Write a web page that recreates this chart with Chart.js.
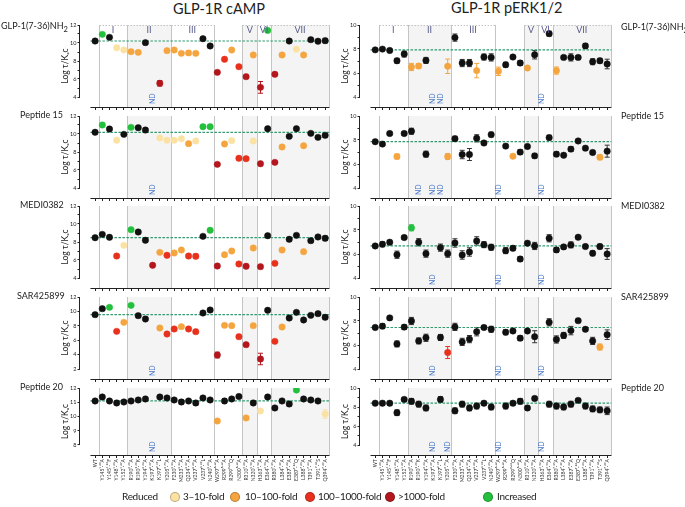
<!DOCTYPE html>
<html>
<head>
<meta charset="utf-8">
<script src="https://cdn.jsdelivr.net/npm/chart.js@4.4.1/dist/chart.umd.min.js"></script>
<style>
  body { margin: 0; background: #fff; }
  #fig { position: relative; width: 685px; height: 507px; overflow: hidden; font-family: Lato, "Open Sans", sans-serif; color: #222; }
  #fig canvas { position: absolute; }
  .lbl { position: absolute; white-space: nowrap; line-height: 1; }
  .head { font-size: 14.5px; }
  .row { font-size: 9px; }
  .leg { font-size: 10px; letter-spacing: -0.3px; }
  .dot { position: absolute; width: 10px; height: 10px; border-radius: 50%; box-sizing: border-box; border: 1px solid rgba(0,0,0,0.25); }
</style>
</head>
<body>
<div id="fig"></div>
<script>
// categories (receptor mutants)
const mutants = ["WT", "Y145¹·⁴⁰A", "Y145¹·⁴⁰F", "Y148¹·⁴³A", "Y152¹·⁴⁷A", "R190²·⁶⁰A", "R190²·⁶⁰K",
  "Y194²·⁶⁴A", "K197²·⁶⁷A", "K197²·⁶⁷L", "Y205²·⁷⁵A", "F230³·³³A", "M233³·³⁶A", "Q234³·³⁷A",
  "V237³·⁴⁰A", "V237³·⁴⁰L", "N240³·⁴³A", "W297ᴱᶜᴸ²A", "R299ᴱᶜᴸ²A", "R299ᴱᶜᴸ²Q", "N300ᴱᶜᴸ²A",
  "R310⁵·⁴⁰A", "N320⁵·⁵⁰A", "H363⁶·⁵²A", "E364⁶·⁵³A", "R380⁷·³⁵A", "L384⁷·³⁹A", "E387⁷·⁴²A",
  "E387⁷·⁴²Q", "L388⁷·⁴³A", "T391⁷·⁴⁶A", "T391⁷·⁴⁶S", "Q394⁷·⁴⁹A"];

const ligands = ["GLP-1(7-36)NH<sub>2</sub>", "Peptide 15", "MEDI0382", "SAR425899", "Peptide 20"];

// receptor domains (first / last mutant index)
const domains = ["I", "II", "III", "V", "VI", "VII"];
const domainStart = [1, 5, 11, 21, 23, 25];
const domainEnd = [4, 10, 16, 22, 24, 32];

// legend classes: 0 = not significant, 1..5 below
const sigNames = ["3–10-fold", "10–100-fold", "100–1000-fold", ">1000-fold", "Increased"];

// ---- cAMP (log tau/KA corrected) ----
const campGLP1 = [10.22, 10.96, 10.63, 9.48, 9.22, 9.04, 8.96, 10.04, null, 5.52, 9.15, 9.22, 8.85, 8.9, 8.85, 10.48, 9.67,
  6.74, 8.19, 9.22, 7.37, 6.26, 8.67, 5.07, 11.4, 6.52, 8.67, 10.22, 9.3, 8.67, 10.37, 10.2, 10.26];
const campGLP1Err = [0.08, 0.08, 0.08, 0.08, 0.08, 0.08, 0.08, 0.08, 0, 0.3, 0.08, 0.08, 0.2, 0.15, 0.2, 0.08, 0.08,
  0.1, 0.08, 0.08, 0.08, 0.08, 0.08, 0.65, 0.08, 0.1, 0.08, 0.15, 0.08, 0.08, 0.08, 0.08, 0.25];
const campGLP1Sig = [0, 5, 0, 1, 1, 2, 2, 0, null, 4, 2, 2, 2, 2, 2, 0, 0, 4, 3, 2, 3, 4, 2, 4, 5, 4, 2, 0, 1, 2, 0, 0, 0];

const campP15 = [10.19, 11.0, 10.56, 9.3, 9.96, 10.74, 10.7, 10.44, null, 9.56, 9.3, 9.3, 9.48, 8.93, 9.22, 10.81, 10.81,
  6.63, 8.89, 9.26, 7.3, 7.26, 9.22, 6.7, 10.59, 6.85, 8.56, 9.74, 10.59, 8.7, 10.07, 9.63, 9.85];
const campP15Err = [0.08, 0.08, 0.08, 0.08, 0.08, 0.08, 0.08, 0.08, 0, 0.08, 0.08, 0.08, 0.2, 0.08, 0.2, 0.08, 0.08,
  0.08, 0.08, 0.08, 0.08, 0.08, 0.08, 0.08, 0.08, 0.08, 0.08, 0.15, 0.08, 0.08, 0.08, 0.08, 0.2];
const campP15Sig = [0, 5, 0, 1, 0, 5, 0, 0, null, 1, 1, 1, 1, 2, 1, 5, 5, 4, 2, 1, 3, 3, 1, 4, 0, 4, 2, 0, 0, 2, 0, 0, 0];

const campMEDI = [8.48, 8.85, 8.52, 6.44, 7.63, 9.37, 9.11, 8.19, 5.41, 6.85, 6.52, 6.78, 7.11, 6.44, 6.41, 8.63, 9.3,
  5.33, 6.59, 7.0, 5.56, 5.3, 7.33, 5.26, 8.7, 5.63, 7.11, 8.3, 8.74, 6.93, 8.15, 8.56, 8.41];
const campMEDIErr = [0.08, 0.08, 0.08, 0.08, 0.08, 0.08, 0.08, 0.08, 0.08, 0.08, 0.08, 0.08, 0.15, 0.08, 0.25, 0.08, 0.08,
  0.08, 0.08, 0.08, 0.08, 0.08, 0.08, 0.15, 0.08, 0.08, 0.08, 0.2, 0.08, 0.08, 0.08, 0.08, 0.25];
const campMEDISig = [0, 0, 0, 3, 1, 5, 0, 0, 4, 2, 3, 2, 2, 3, 3, 0, 5, 4, 2, 2, 3, 4, 2, 4, 0, 3, 2, 0, 0, 2, 0, 0, 0];

const campSAR = [9.55, 10.38, 10.56, 7.23, 8.48, 10.84, 9.41, 8.94, null, 7.69, 6.86, 7.56, 7.88, 7.56, 7.19, 9.78, 10.19,
  3.94, 8.06, 8.02, 6.49, 5.38, 8.02, 3.39, 10.15, 5.84, 7.83, 9.08, 9.87, 8.81, 9.45, 9.69, 9.18];
const campSARErr = [0.08, 0.08, 0.08, 0.08, 0.08, 0.08, 0.08, 0.08, 0, 0.08, 0.08, 0.08, 0.15, 0.08, 0.08, 0.08, 0.08,
  0.4, 0.08, 0.08, 0.08, 0.15, 0.08, 0.8, 0.08, 0.08, 0.08, 0.2, 0.08, 0.08, 0.08, 0.08, 0.25];
const campSARSig = [0, 0, 5, 3, 2, 5, 0, 0, null, 2, 3, 3, 2, 3, 3, 0, 0, 4, 2, 2, 3, 4, 2, 4, 0, 3, 2, 0, 0, 0, 0, 0, 0];

const campP20 = [11.09, 11.37, 11.09, 10.95, 11.02, 11.09, 11.16, 11.23, null, 11.37, 11.3, 11.16, 11.02, 11.09, 10.95, 11.3, 11.16,
  9.68, 11.09, 11.23, 11.4, 9.9, 10.95, 10.39, 11.37, 10.6, 11.09, 10.88, 11.86, 11.23, 11.16, 11.09, 10.18];
const campP20Err = [0.05, 0.08, 0.05, 0.08, 0.08, 0.05, 0.08, 0.08, 0, 0.08, 0.08, 0.08, 0.15, 0.1, 0.15, 0.08, 0.08,
  0.08, 0.15, 0.08, 0.08, 0.08, 0.08, 0.08, 0.08, 0.1, 0.08, 0.15, 0.08, 0.08, 0.08, 0.08, 0.3];
const campP20Sig = [0, 0, 0, 0, 0, 0, 0, 0, null, 0, 0, 0, 0, 0, 0, 0, 0, 2, 0, 0, 0, 2, 0, 1, 0, 0, 0, 0, 5, 0, 0, 0, 1];

// ---- pERK1/2 (log tau/KA corrected) ----
const perkGLP1 = [7.93, 7.99, 7.88, 7.02, 7.58, 6.5, 6.58, 7.05, null, null, 6.56, 8.95, 6.83, 6.83, 6.2, 7.33, 7.3,
  6.14, 6.69, 7.33, 6.83, 6.42, 7.52, null, 9.28, 6.2, 7.3, 7.3, 7.3, 8.26, 6.94, 7.02, 6.75];
const perkGLP1Err = [0.08, 0.1, 0.1, 0.2, 0.25, 0.3, 0.2, 0.25, 0, 0, 0.6, 0.3, 0.3, 0.3, 0.6, 0.25, 0.3,
  0.35, 0.2, 0.1, 0.2, 0.1, 0.35, 0, 0.2, 0.3, 0.15, 0.3, 0.15, 0.2, 0.25, 0.2, 0.4];
const perkGLP1Sig = [0, 0, 0, 0, 0, 2, 2, 0, null, null, 2, 0, 0, 0, 2, 0, 0, 2, 0, 0, 0, 2, 0, null, 0, 2, 0, 0, 0, 0, 0, 0, 0];

const perkP15 = [7.86, 7.66, 8.54, 6.62, 8.54, 8.73, null, 6.82, null, null, 6.62, 8.11, 6.79, 6.79, 8.14, 7.75, 8.45,
  null, 7.49, 6.65, 6.99, 7.46, 6.68, null, 8.2, 6.82, 6.73, 7.24, 7.92, 7.32, 6.96, 6.56, 7.07];
const perkP15Err = [0.08, 0.12, 0.1, 0.2, 0.15, 0.25, 0, 0.25, 0, 0, 0.25, 0.2, 0.35, 0.5, 0.3, 0.15, 0.2,
  0, 0.15, 0.1, 0.2, 0.1, 0.2, 0, 0.2, 0.2, 0.08, 0.2, 0.12, 0.15, 0.15, 0.2, 0.5];
const perkP15Sig = [0, 0, 0, 2, 0, 0, null, 0, null, null, 2, 0, 0, 0, 0, 0, 0, null, 0, 2, 0, 0, 0, null, 0, 0, 0, 0, 0, 0, 0, 2, 0];

const perkMEDI = [6.67, 6.81, 6.98, 5.94, 7.37, 8.18, 6.98, 6.03, null, 6.53, 6.03, 6.92, 5.92, 6.17, 7.09, 6.78, 6.56,
  null, 6.28, 6.48, 5.58, 6.9, 6.67, null, 7.31, 6.34, 6.59, 6.76, 7.4, 6.62, 6.06, 6.62, 6.0];
const perkMEDIErr = [0.08, 0.2, 0.15, 0.3, 0.15, 0.25, 0.3, 0.3, 0, 0.3, 0.3, 0.35, 0.35, 0.35, 0.35, 0.25, 0.25,
  0, 0.25, 0.2, 0.2, 0.08, 0.3, 0, 0.3, 0.2, 0.15, 0.25, 0.08, 0.15, 0.2, 0.2, 0.45];
const perkMEDISig = [0, 0, 0, 0, 0, 5, 0, 0, null, 0, 0, 0, 0, 0, 0, 0, 0, null, 0, 0, 0, 0, 0, null, 0, 0, 0, 0, 0, 0, 0, 0, 0];

const perkSAR = [7.46, 7.57, 8.26, 6.09, 7.49, 8.0, 6.34, 6.6, null, 6.63, 5.37, 7.51, 6.26, 6.49, 7.11, 7.46, 7.31,
  null, 7.06, 7.17, 6.57, 7.17, 6.69, null, 7.89, 6.46, 6.8, 7.2, 8.03, 7.31, 6.34, 5.83, 6.86];
const perkSARErr = [0.08, 0.2, 0.1, 0.25, 0.2, 0.3, 0.25, 0.3, 0, 0.25, 0.5, 0.3, 0.3, 0.3, 0.35, 0.12, 0.25,
  0, 0.2, 0.12, 0.2, 0.1, 0.5, 0, 0.3, 0.3, 0.25, 0.35, 0.1, 0.15, 0.3, 0.25, 0.4];
const perkSARSig = [0, 0, 0, 0, 0, 0, 0, 0, null, 0, 3, 0, 0, 0, 0, 0, 0, null, 0, 0, 0, 0, 0, null, 0, 0, 0, 0, 0, 0, 0, 2, 0];

const perkP20 = [8.4, 8.4, 8.4, 7.4, 8.8, 8.6, 8.3, 7.9, null, 8.8, null, 7.6, 8.3, 7.9, 8.1, 8.4, 8.0,
  null, 8.1, 8.4, 8.6, 7.9, 8.9, null, 8.3, 8.1, 8.0, 8.3, 8.7, 8.1, 7.8, 7.7, 7.6];
const perkP20Err = [0.1, 0.2, 0.2, 0.3, 0.2, 0.3, 0.3, 0.3, 0, 0.3, 0, 0.3, 0.3, 0.3, 0.3, 0.2, 0.3,
  0, 0.3, 0.2, 0.3, 0.2, 0.2, 0, 0.3, 0.3, 0.3, 0.3, 0.2, 0.3, 0.3, 0.3, 0.4];
const perkP20Sig = [0, 0, 0, 0, 0, 0, 0, 0, null, 0, null, 0, 0, 0, 0, 0, 0, null, 0, 0, 0, 0, 0, null, 0, 0, 0, 0, 0, 0, 0, 0, 0];

// y ranges and labelled tick step per row
const campRange = [[4, 12], [4, 12], [4, 12], [2, 12], [8, 12]];
const campStep = [2, 2, 2, 2, 1];
const perkRange = [[4, 10], [4, 10], [4, 10], [4, 10], [4, 10]];
const perkStep = [2, 2, 2, 2, 2];

const campRows = [[campGLP1, campGLP1Err, campGLP1Sig], [campP15, campP15Err, campP15Sig], [campMEDI, campMEDIErr, campMEDISig],
  [campSAR, campSARErr, campSARSig], [campP20, campP20Err, campP20Sig]];
const perkRows = [[perkGLP1, perkGLP1Err, perkGLP1Sig], [perkP15, perkP15Err, perkP15Sig], [perkMEDI, perkMEDIErr, perkMEDISig],
  [perkSAR, perkSARErr, perkSARSig], [perkP20, perkP20Err, perkP20Sig]];

// ---- layout / style ----
const sigColors = ["#111111", "#fbe2a2", "#f5a53f", "#e8301c", "#b3171d", "#22c03c"];
const rowTop = [25, 116, 206, 297, 388];
const rowSpan = [72, 72, 72, 72, 57];
const GAP = 10;
const fig = document.getElementById("fig");
Chart.defaults.font.family = "Lato, 'Open Sans', sans-serif";
Chart.defaults.color = "#222";

function addText(html, cls, left, top, extra) {
  const d = document.createElement("div");
  d.className = "lbl " + cls;
  d.innerHTML = html;
  d.style.left = left + "px";
  d.style.top = top + "px";
  if (extra) Object.assign(d.style, extra);
  fig.appendChild(d);
  return d;
}

function makePanel(col, r, vals, err, sig, range, step) {
  const [lo, hi] = range;
  const span = rowSpan[r];
  const last = r === 4;
  const ymin = lo - GAP * (hi - lo) / span;
  const xAxisH = last ? 32 : 5;
  const padTop = 6;
  const left = col === 0 ? 60 : 340;
  const width = col === 0 ? 274 : 276;
  const height = padTop + span + GAP + xAxisH;

  const cv = document.createElement("canvas");
  cv.width = width; cv.height = height;
  cv.style.left = left + "px";
  cv.style.top = (rowTop[r] - padTop) + "px";
  cv.style.width = width + "px"; cv.style.height = height + "px";
  fig.appendChild(cv);

  const pts = [], colors = [], errs = [];
  vals.forEach((v, i) => {
    if (v === null) return;
    pts.push({ x: i, y: v });
    colors.push(sigColors[sig[i]]);
    errs.push(err[i]);
  });

  const decor = {
    id: "decor",
    beforeDatasetsDraw(chart) {
      const { ctx, chartArea: a, scales: { x, y } } = chart;
      const top = y.getPixelForValue(hi), base = a.bottom;
      ctx.save();
      domainStart.forEach((s, k) => {
        const x0 = Math.round(x.getPixelForValue(s - 0.5)) + 0.5;
        const x1 = Math.round(x.getPixelForValue(domainEnd[k] + 0.5)) + 0.5;
        if (k % 2 === 1) {
          ctx.fillStyle = "#f4f4f4";
          ctx.fillRect(x0, top, x1 - x0, base - top);
        }
        ctx.strokeStyle = "#c4c4c4";
        ctx.lineWidth = 1;
        ctx.setLineDash([]);
        ctx.beginPath();
        ctx.moveTo(x0, top); ctx.lineTo(x0, base);
        ctx.moveTo(x1, top); ctx.lineTo(x1, base);
        ctx.stroke();
        if (r === 0) {
          ctx.setLineDash([1.5, 1.5]);
          ctx.beginPath();
          ctx.moveTo(x0, top + 0.5); ctx.lineTo(x1, top + 0.5);
          ctx.stroke();
        }
      });
      // offset axes lines
      ctx.setLineDash([]);
      ctx.strokeStyle = "#222";
      ctx.lineWidth = 1;
      ctx.beginPath();
      ctx.moveTo(a.left - 0.5, top); ctx.lineTo(a.left - 0.5, y.getPixelForValue(lo));
      ctx.moveTo(x.getPixelForValue(-0.65), base + 0.5); ctx.lineTo(a.right, base + 0.5);
      ctx.stroke();
      // error bars
      pts.forEach((p, i) => {
        const e = errs[i];
        if (!e) return;
        const px = x.getPixelForValue(p.x);
        const y0 = y.getPixelForValue(p.y - e), y1 = y.getPixelForValue(p.y + e);
        ctx.strokeStyle = colors[i] === "#111111" ? "#333" : colors[i];
        ctx.lineWidth = 1;
        ctx.beginPath();
        ctx.moveTo(px, y0); ctx.lineTo(px, y1);
        ctx.moveTo(px - 2.5, y0); ctx.lineTo(px + 2.5, y0);
        ctx.moveTo(px - 2.5, y1); ctx.lineTo(px + 2.5, y1);
        ctx.stroke();
      });
      ctx.restore();
    },
    afterDatasetsDraw(chart) {
      const { ctx, chartArea: a, scales: { x, y } } = chart;
      ctx.save();
      // ND labels
      ctx.fillStyle = "#4a78c8";
      ctx.font = "7px Lato, sans-serif";
      ctx.textAlign = "left";
      ctx.textBaseline = "middle";
      vals.forEach((v, i) => {
        if (v !== null) return;
        ctx.save();
        ctx.translate(x.getPixelForValue(i), a.bottom - 3);
        ctx.rotate(-Math.PI / 2);
        ctx.fillText("ND", 0, 0);
        ctx.restore();
      });
      // domain names on the top row
      if (r === 0) {
        ctx.fillStyle = "#55588a";
        ctx.font = "9px Lato, sans-serif";
        ctx.textAlign = "center";
        ctx.textBaseline = "top";
        domains.forEach((d, k) => {
          const cx = (x.getPixelForValue(domainStart[k] - 0.5) + x.getPixelForValue(domainEnd[k] + 0.5)) / 2;
          ctx.fillText(d, cx, y.getPixelForValue(hi) + 1);
        });
      }
      ctx.restore();
    }
  };

  new Chart(cv, {
    type: "scatter",
    data: {
      datasets: [
        {
          data: pts,
          pointRadius: 3.2,
          pointBackgroundColor: colors,
          pointBorderColor: colors,
          pointBorderWidth: 0.5,
          order: 1
        },
        {
          type: "line",
          data: [{ x: -0.65, y: vals[0] }, { x: 32.6, y: vals[0] }],
          borderColor: "#2f9a6e",
          borderWidth: 1.2,
          borderDash: [2.5, 1.5],
          pointRadius: 0,
          order: 2
        }
      ]
    },
    options: {
      responsive: false,
      animation: false,
      events: [],
      layout: { padding: { top: padTop, right: 4, left: 0, bottom: 0 } },
      plugins: { legend: { display: false }, tooltip: { enabled: false } },
      scales: {
        x: {
          type: "linear",
          min: -2.1,
          max: 32.6,
          afterBuildTicks: s => { s.ticks = mutants.map((m, i) => ({ value: i })); },
          afterFit: s => { s.height = xAxisH; },
          border: { display: false },
          grid: { drawOnChartArea: false, tickLength: 3, color: "#222" },
          ticks: {
            display: last,
            autoSkip: false,
            minRotation: 90,
            maxRotation: 90,
            padding: 1,
            color: "#333",
            font: { size: 5 },
            callback: v => mutants[v]
          }
        },
        y: {
          min: ymin,
          max: hi,
          afterBuildTicks: s => {
            const t = [];
            for (let v = lo; v <= hi; v++) t.push({ value: v });
            s.ticks = t;
          },
          afterFit: s => { s.width = 20; },
          border: { display: false },
          grid: { drawOnChartArea: false, tickLength: 2.5, color: "#222" },
          ticks: {
            padding: 1,
            font: { size: 5.5 },
            color: "#222",
            callback: v => ((v - lo) % step === 0 ? v : "")
          },
          title: { display: true, text: "Log τ/Kₐc", font: { size: 8.5 }, padding: 0, color: "#222" }
        }
      }
    },
    plugins: [decor]
  });
}

for (let r = 0; r < 5; r++) {
  makePanel(0, r, campRows[r][0], campRows[r][1], campRows[r][2], campRange[r], campStep[r]);
  makePanel(1, r, perkRows[r][0], perkRows[r][1], perkRows[r][2], perkRange[r], perkStep[r]);
}

// column headings and row labels
addText("GLP-1R cAMP", "head", 173, 2);
addText("GLP-1R pERK1/2", "head", 451, 1);
const leftX = [1, 20, 20, 17, 20];
const rowLabelY = [21, 110, 200, 291, 382];
ligands.forEach((name, r) => {
  addText(name, "row", leftX[r], rowLabelY[r]);
  addText(name, "row", 621, rowLabelY[r] + 1);
});

// legend
const legY = 497;
addText("Reduced", "leg", 122, legY - 6);
const legDot = [175, 235, 310, 390, 488];
const legText = [183, 245, 318, 398, 497];
sigNames.forEach((n, k) => {
  const d = document.createElement("div");
  d.className = "dot";
  d.style.left = (legDot[k] - 5) + "px";
  d.style.top = (legY - 5) + "px";
  d.style.background = sigColors[k + 1];
  fig.appendChild(d);
  addText(n, "leg", legText[k], legY - 6);
});
</script>
</body>
</html>
